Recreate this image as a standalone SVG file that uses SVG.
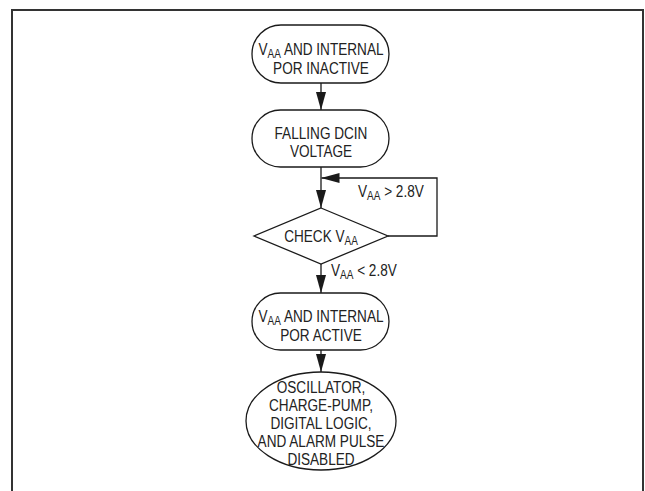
<svg xmlns="http://www.w3.org/2000/svg" width="645" height="491" viewBox="0 0 645 491">
  <style>
    .shape { fill: #ffffff; stroke: #1a1a1a; stroke-width: 1.3; }
    .line { fill: none; stroke: #1a1a1a; stroke-width: 1.3; }
    .frame { fill: none; stroke: #333333; stroke-width: 2; }
    text { font-family: "Liberation Sans", Arial, sans-serif; font-size: 17px; fill: #222222; }
    .c { text-anchor: middle; }
    .sub { font-size: 12.5px; }
  </style>
  <defs>
    <marker id="arrow" viewBox="0 0 18 10" refX="18" refY="5" markerWidth="18" markerHeight="10" markerUnits="userSpaceOnUse" orient="auto">
      <path d="M0,0 L18,5 L0,10 Z" fill="#1a1a1a"/>
    </marker>
  </defs>
  <rect width="645" height="491" fill="#ffffff"/>
  <path class="frame" d="M12,491 V10 H643 V491"/>

  <g id="connectors">
    <line class="line" x1="321" y1="83" x2="321" y2="110" marker-end="url(#arrow)"/>
    <line class="line" x1="321" y1="167" x2="321" y2="208" marker-end="url(#arrow)"/>
    <polyline class="line" points="388,236 437,236 437,178 321.5,178" marker-end="url(#arrow)"/>
    <line class="line" x1="321" y1="264" x2="321" y2="293" marker-end="url(#arrow)"/>
    <line class="line" x1="321" y1="350" x2="321" y2="372" marker-end="url(#arrow)"/>
    <text id="label-gt" transform="translate(358,197) scale(0.8,1)">V<tspan class="sub" dy="3">AA</tspan><tspan dy="-3"> &gt; 2.8V</tspan></text>
    <text id="label-lt" transform="translate(331,276) scale(0.8,1)">V<tspan class="sub" dy="3">AA</tspan><tspan dy="-3"> &lt; 2.8V</tspan></text>
  </g>

  <g id="node-inactive">
    <rect class="shape" x="252" y="25" width="137" height="58" rx="29" ry="29"/>
    <text class="c" transform="translate(321,55) scale(0.8,1)">V<tspan class="sub" dy="3">AA</tspan><tspan dy="-3"> AND INTERNAL</tspan></text>
    <text class="c" transform="translate(321,74) scale(0.8,1)">POR INACTIVE</text>
  </g>

  <g id="node-falling">
    <rect class="shape" x="252" y="110" width="137" height="57" rx="28.5" ry="28.5"/>
    <text class="c" transform="translate(321,139) scale(0.8,1)">FALLING DCIN</text>
    <text class="c" transform="translate(321,157) scale(0.8,1)">VOLTAGE</text>
  </g>

  <g id="node-check">
    <polygon class="shape" points="321,208 388,236 321,264 254,236"/>
    <text class="c" transform="translate(321,242) scale(0.8,1)">CHECK V<tspan class="sub" dy="3">AA</tspan></text>
  </g>

  <g id="node-active">
    <rect class="shape" x="252" y="293" width="137" height="57" rx="28.5" ry="28.5"/>
    <text class="c" transform="translate(321,322) scale(0.8,1)">V<tspan class="sub" dy="3">AA</tspan><tspan dy="-3"> AND INTERNAL</tspan></text>
    <text class="c" transform="translate(321,341) scale(0.8,1)">POR ACTIVE</text>
  </g>

  <g id="node-disabled">
    <ellipse class="shape" cx="321" cy="421" rx="75" ry="49"/>
    <text class="c" transform="translate(321,393) scale(0.8,1)">OSCILLATOR,</text>
    <text class="c" transform="translate(321,411) scale(0.8,1)">CHARGE-PUMP,</text>
    <text class="c" transform="translate(321,429) scale(0.8,1)">DIGITAL LOGIC,</text>
    <text class="c" transform="translate(321,447) scale(0.8,1)">AND ALARM PULSE</text>
    <text class="c" transform="translate(321,465) scale(0.8,1)">DISABLED</text>
  </g>
</svg>
